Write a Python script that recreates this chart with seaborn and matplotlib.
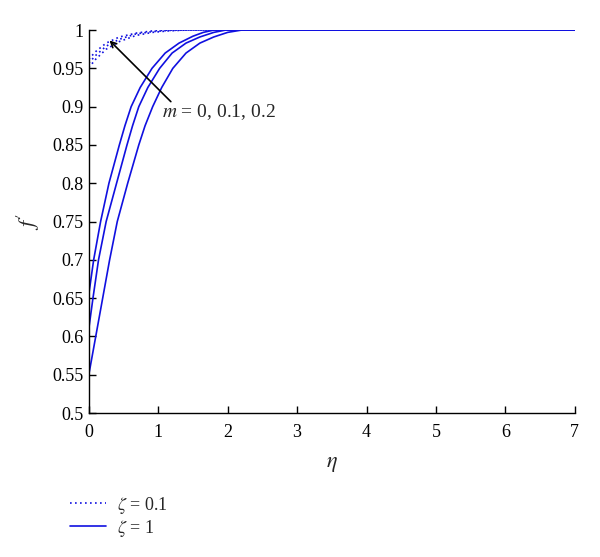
import pandas as pd
import matplotlib
matplotlib.use("Agg")
import matplotlib.pyplot as plt
from matplotlib.lines import Line2D
import seaborn as sns

# zeta = 1 (solid), m = 0, 0.1, 0.2
eta_s_m0 = [0, 0.10, 0.20, 0.30, 0.41, 0.56, 0.72, 0.81, 0.92, 1.05, 1.21,
            1.4, 1.6, 1.8, 2.0, 2.2, 7.0]
f_s_m0 = [0.55, 0.60, 0.65, 0.70, 0.75, 0.80, 0.85, 0.875, 0.90, 0.925, 0.95,
          0.97, 0.983, 0.991, 0.997, 1.0, 1.0]
eta_s_m1 = [0, 0.06, 0.14, 0.25, 0.40, 0.55, 0.63, 0.72, 0.85, 1.02, 1.2,
            1.4, 1.6, 1.8, 1.97, 7.0]
f_s_m1 = [0.61, 0.65, 0.70, 0.75, 0.80, 0.85, 0.875, 0.90, 0.925, 0.95, 0.97,
          0.983, 0.991, 0.997, 1.0, 1.0]
eta_s_m2 = [0, 0.07, 0.17, 0.29, 0.44, 0.52, 0.61, 0.74, 0.91, 1.1, 1.3, 1.5,
            1.65, 1.8, 7.0]
f_s_m2 = [0.655, 0.70, 0.75, 0.80, 0.85, 0.875, 0.90, 0.925, 0.95, 0.97,
          0.983, 0.992, 0.997, 1.0, 1.0]

# zeta = 0.1 (dotted)
eta_d = [0, 0.10, 0.25, 0.44, 0.68, 0.92, 1.15, 1.4, 7.0]
f_d_m0 = [0.951, 0.962, 0.975, 0.985, 0.993, 0.997, 0.999, 1.0, 1.0]
f_d_m1 = [0.957, 0.967, 0.979, 0.988, 0.995, 0.998, 0.9995, 1.0, 1.0]
f_d_m2 = [0.962, 0.972, 0.983, 0.991, 0.996, 0.999, 1.0, 1.0, 1.0]

blue = "#1010e0"
dotted = (0, (1, 2))

sns.set_style("ticks")
plt.rcParams["font.family"] = ["Liberation Serif", "DejaVu Serif"]
plt.rcParams["mathtext.fontset"] = "stix"

fig = plt.figure(figsize=(6, 5.57), dpi=100)
ax = fig.add_axes([0.148, 0.2585, 0.81, 0.6875])

for x, y in [(eta_s_m0, f_s_m0), (eta_s_m1, f_s_m1), (eta_s_m2, f_s_m2)]:
    df = pd.DataFrame({"eta": x, "f": y})
    sns.lineplot(data=df, x="eta", y="f", ax=ax, color=blue, lw=1.2,
                 sort=False, estimator=None, legend=False)

for y in [f_d_m0, f_d_m1, f_d_m2]:
    df = pd.DataFrame({"eta": eta_d, "f": y})
    sns.lineplot(data=df, x="eta", y="f", ax=ax, color=blue, lw=1.2,
                 linestyle=dotted, sort=False, estimator=None, legend=False)

ax.set_xlim(0, 7)
ax.set_ylim(0.5, 1.0)
ax.set_xticks(range(0, 8))
ax.set_yticks([0.5, 0.55, 0.6, 0.65, 0.7, 0.75, 0.8, 0.85, 0.9, 0.95, 1.0])
ax.set_yticklabels(["0.5", "0.55", "0.6", "0.65", "0.7", "0.75", "0.8",
                    "0.85", "0.9", "0.95", "1"])
ax.tick_params(direction="in", length=5, width=1, labelsize=13, colors="black")
ax.tick_params(axis="x", pad=8)
for s in ["top", "right"]:
    ax.spines[s].set_visible(False)
for s in ["left", "bottom"]:
    ax.spines[s].set_color("black")
    ax.spines[s].set_linewidth(1.0)

ax.set_xlabel("$\\eta$", fontsize=16, labelpad=10)
ax.set_ylabel("$f'$", fontsize=16, labelpad=8)

ax.annotate("", xy=(0.27, 0.989), xytext=(1.21, 0.904),
            arrowprops=dict(arrowstyle="->", color="black", lw=1.2))
ax.text(1.05, 0.893, "$m$ = 0, 0.1, 0.2", fontsize=14, va="center", ha="left")

handles = [Line2D([], [], color=blue, lw=1.2, linestyle=dotted),
           Line2D([], [], color=blue, lw=1.2)]
fig.legend(handles, ["$\\zeta$ = 0.1", "$\\zeta$ = 1"], loc="upper left",
           bbox_to_anchor=(0.105, 0.125), frameon=False, fontsize=13,
           handlelength=2.0, handletextpad=0.6, labelspacing=0.12,
           borderaxespad=0)

fig.savefig("out.png", dpi=100)
